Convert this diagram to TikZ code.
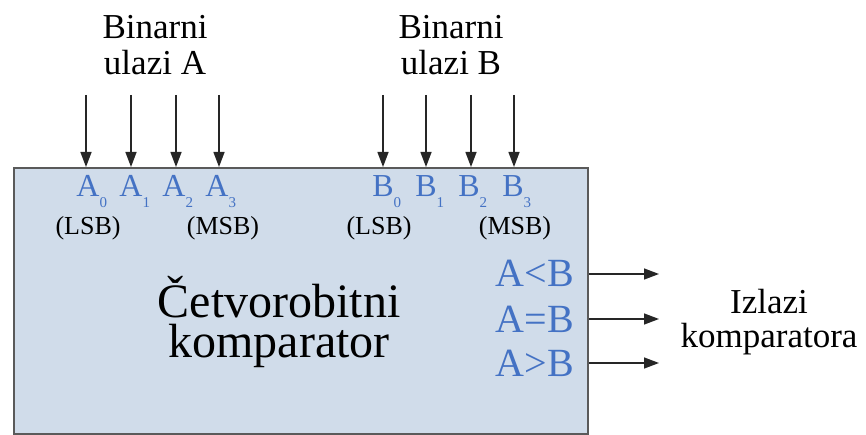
\documentclass[tikz,border=0pt]{standalone}
\usepackage{fontspec}
\setmainfont{Liberation Serif}
\usetikzlibrary{arrows.meta}
\definecolor{boxfill}{HTML}{D0DCEA}
\definecolor{boxline}{HTML}{5A5A5A}
\definecolor{lblue}{HTML}{4472C4}
\newcommand\subidx[1]{\raisebox{-0.34em}{\fontsize{15}{15}\selectfont #1}}
\begin{document}
\begin{tikzpicture}[x=1pt,y=-1pt,
  sig/.style={-{Triangle[length=15pt,width=11pt]}, line width=1.4pt, draw=black!85},
  pinlbl/.style={text=lblue, font=\fontsize{32}{32}\selectfont, inner sep=0pt, anchor=base},
  note/.style={font=\fontsize{26}{26}\selectfont, inner sep=0pt, anchor=base},
  outlbl/.style={text=lblue, font=\fontsize{40}{40}\selectfont, inner sep=0pt, anchor=base east},
  title/.style={font=\fontsize{35}{36}\selectfont, inner sep=0pt, align=center, anchor=base}]
\useasboundingbox (0,0) rectangle (866,435);
\node[draw=boxline, line width=2pt, fill=boxfill, minimum width=574pt, minimum height=266pt,
      anchor=north west, inner sep=0pt] (cmp) at (13,167) {};
% titles (anchor = baseline of last line)
\node[title] (ta) at (155,75) {Binarni\\ulazi A};
\node[title] (tb) at (451,75) {Binarni\\ulazi B};
% input arrows
\foreach \n/\x in {a0/86,a1/131,a2/176,a3/219,b0/383,b1/426,b2/471,b3/514}{
  \coordinate (\n in) at (\x,95);
  \draw[sig] (\n in) -- (\n in |- cmp.north);
}
% pin labels
\node[pinlbl] (a0) at (88,197) {A\rlap{\subidx{0}}};
\node[pinlbl] (a1) at (131,197) {A\rlap{\subidx{1}}};
\node[pinlbl] (a2) at (174,197) {A\rlap{\subidx{2}}};
\node[pinlbl] (a3) at (217,197) {A\rlap{\subidx{3}}};
\node[pinlbl] (b0) at (383,197) {B\rlap{\subidx{0}}};
\node[pinlbl] (b1) at (426,197) {B\rlap{\subidx{1}}};
\node[pinlbl] (b2) at (469,197) {B\rlap{\subidx{2}}};
\node[pinlbl] (b3) at (513,197) {B\rlap{\subidx{3}}};
\node[note] (alsb) at (88,235) {(LSB)};
\node[note] (amsb) at (223,235) {(MSB)};
\node[note] (blsb) at (379,235) {(LSB)};
\node[note] (bmsb) at (515,235) {(MSB)};
% main text
\node[font=\fontsize{48}{40}\selectfont, inner sep=0pt, align=center, anchor=base] (name) at (279,357) {Četvorobitni\\komparator};
% outputs
\node[outlbl] (lt) at (574,287) {A<B};
\node[outlbl] (eq) at (574,332) {A=B};
\node[outlbl] (gt) at (574,376) {A>B};
\coordinate (o1) at (659,274);
\coordinate (o2) at (659,319);
\coordinate (o3) at (659,363);
\draw[sig] (cmp.east |- o1) -- (o1);
\draw[sig] (cmp.east |- o2) -- (o2);
\draw[sig] (cmp.east |- o3) -- (o3);
\node[font=\fontsize{35}{34}\selectfont, inner sep=0pt, align=center, anchor=base] (izl) at (769,347) {Izlazi\\komparatora};
\end{tikzpicture}
\end{document}
